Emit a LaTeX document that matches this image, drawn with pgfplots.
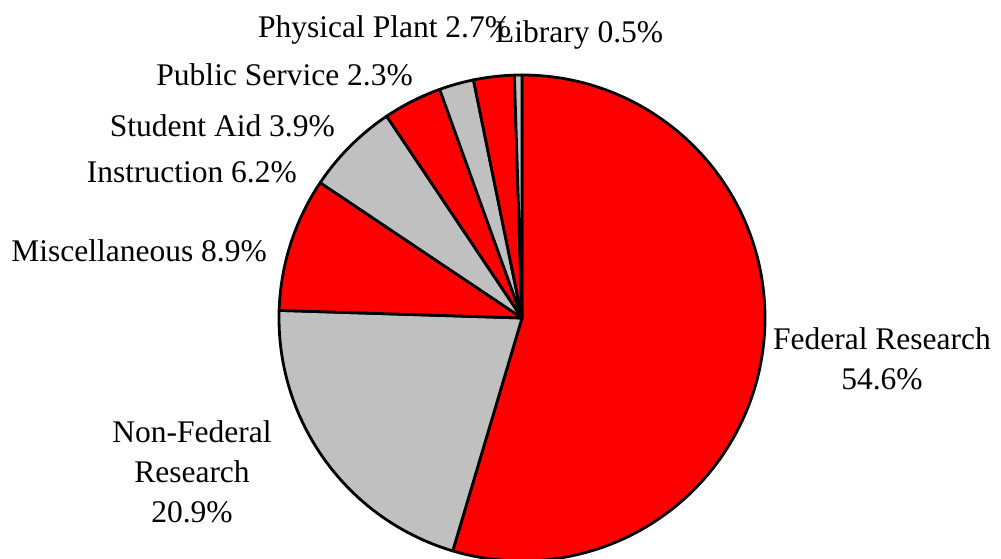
\documentclass[border=0pt]{standalone}
\usepackage{pgfplots}
\pgfplotsset{compat=1.18}
\usepackage{pgfplotstable}
\usepackage{fontspec}
\setmainfont{Liberation Serif}

\definecolor{pieRed}{RGB}{255,0,0}
\definecolor{pieGray}{RGB}{192,192,192}

% slices clockwise from 12 o'clock
\pgfplotstableread{
value col
54.6 pieRed
20.9 pieGray
8.9  pieRed
6.2  pieGray
3.9  pieRed
2.3  pieGray
2.7  pieRed
0.5  pieGray
}\piedata

\tikzset{lbl/.style={font=\fontsize{31.5}{40}\selectfont, inner sep=0pt}}

\begin{document}
\begin{tikzpicture}
\begin{axis}[
  scale only axis, width=1001pt, height=558pt,
  xmin=0, xmax=1001, ymin=0, ymax=558, y dir=reverse,
  hide axis,
]
\pgfplotsextra{
  \gdef\angstart{90}
  \pgfplotstablegetrowsof{\piedata}
  \pgfmathtruncatemacro\nrows{\pgfplotsretval-1}
  \foreach \i in {0,...,\nrows}{
    \pgfplotstablegetelem{\i}{value}\of\piedata \let\v\pgfplotsretval
    \pgfplotstablegetelem{\i}{col}\of\piedata \let\c\pgfplotsretval
    \pgfmathsetmacro\angend{\angstart-3.6*\v}
    \filldraw[fill=\c, draw=black, line width=2.8pt, line join=round]
      (axis cs:522,318) -- ++(\angstart:243pt)
      arc[start angle=\angstart, end angle=\angend, radius=243pt] -- cycle;
    \xdef\angstart{\angend}
  }
}
\node[lbl, anchor=base west] at (axis cs:258,37) {Physical Plant 2.7\%};
\node[lbl, anchor=base west] at (axis cs:495,42) {Library 0.5\%};
\node[lbl, anchor=base east] at (axis cs:413,85) {Public Service 2.3\%};
\node[lbl, anchor=base east] at (axis cs:335,136) {Student Aid 3.9\%};
\node[lbl, anchor=base east] at (axis cs:297,182) {Instruction 6.2\%};
\node[lbl, anchor=base east] at (axis cs:267,261) {Miscellaneous 8.9\%};
\node[lbl, anchor=base] at (axis cs:882,349) {Federal Research};
\node[lbl, anchor=base] at (axis cs:882,389) {54.6\%};
\node[lbl, anchor=base] at (axis cs:192,442) {Non-Federal};
\node[lbl, anchor=base] at (axis cs:192,482) {Research};
\node[lbl, anchor=base] at (axis cs:192,522) {20.9\%};
\coordinate (bbA) at (axis cs:0,0);
\coordinate (bbB) at (axis cs:1001,558);
\end{axis}
\pgfresetboundingbox
\path[use as bounding box] (bbA) rectangle (bbB);
\end{tikzpicture}
\end{document}
